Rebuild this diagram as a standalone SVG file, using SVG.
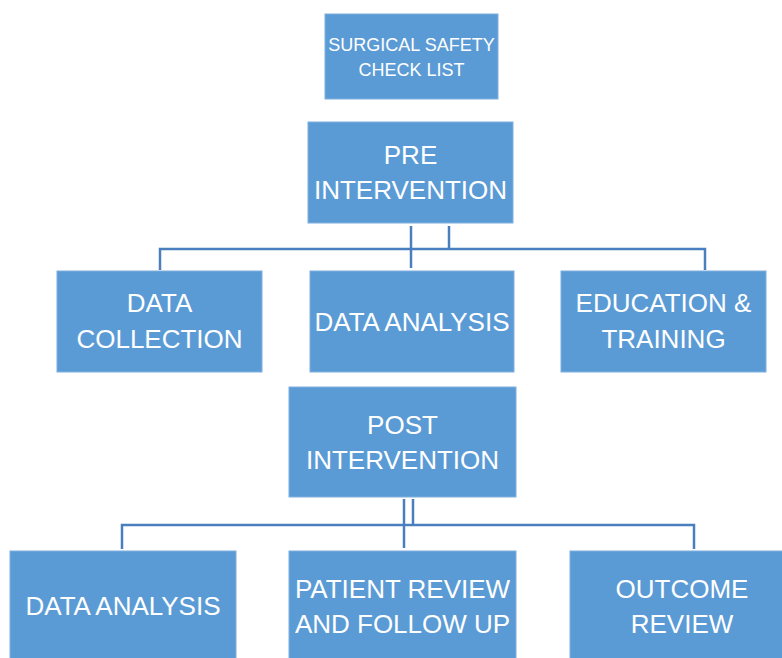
<svg xmlns="http://www.w3.org/2000/svg" width="782" height="658" viewBox="0 0 782 658">
<style>
.box{fill:#5B9BD5;stroke:#7FB0DE;stroke-width:1}
.t{font-family:"Liberation Sans",Arial,sans-serif;font-size:26px;fill:#FFFFFF;text-anchor:middle}
.s{font-size:18px}
.c{fill:none;stroke:#4A7FBF;stroke-width:2.5}
</style>
<rect width="782" height="658" fill="#FFFFFF"/>
<g id="connectors">
<path class="c" d="M411 226V268 M449 226V249 M160 270V249H705V270"/>
<path class="c" d="M404 499V548 M413 499V525 M122 549V525H694V549"/>
</g>
<g id="checklist">
<rect class="box" x="325" y="14" width="173" height="85"/>
<text class="t s" x="411.5" y="51">SURGICAL SAFETY</text>
<text class="t s" x="411.5" y="76">CHECK LIST</text>
</g>
<g id="pre">
<rect class="box" x="308" y="122" width="205" height="101"/>
<text class="t" x="410.5" y="164">PRE</text>
<text class="t" x="410.5" y="199">INTERVENTION</text>
</g>
<g id="collection">
<rect class="box" x="57" y="271" width="205" height="101"/>
<text class="t" x="159.5" y="312">DATA</text>
<text class="t" x="159.5" y="348">COLLECTION</text>
</g>
<g id="analysis1">
<rect class="box" x="310" y="271" width="204" height="101"/>
<text class="t" x="412" y="331">DATA ANALYSIS</text>
</g>
<g id="education">
<rect class="box" x="561" y="271" width="205" height="101"/>
<text class="t" x="663.5" y="312">EDUCATION &amp;</text>
<text class="t" x="663.5" y="348">TRAINING</text>
</g>
<g id="post">
<rect class="box" x="289" y="387" width="227" height="110"/>
<text class="t" x="402.5" y="434">POST</text>
<text class="t" x="402.5" y="469">INTERVENTION</text>
</g>
<g id="analysis2">
<rect class="box" x="10" y="551" width="226" height="110"/>
<text class="t" x="123" y="615">DATA ANALYSIS</text>
</g>
<g id="patient">
<rect class="box" x="289" y="551" width="227" height="110"/>
<text class="t" x="402.5" y="598">PATIENT REVIEW</text>
<text class="t" x="402.5" y="633">AND FOLLOW UP</text>
</g>
<g id="outcome">
<rect class="box" x="570" y="551" width="225" height="110"/>
<text class="t" x="682" y="598">OUTCOME</text>
<text class="t" x="682" y="633">REVIEW</text>
</g>
</svg>
